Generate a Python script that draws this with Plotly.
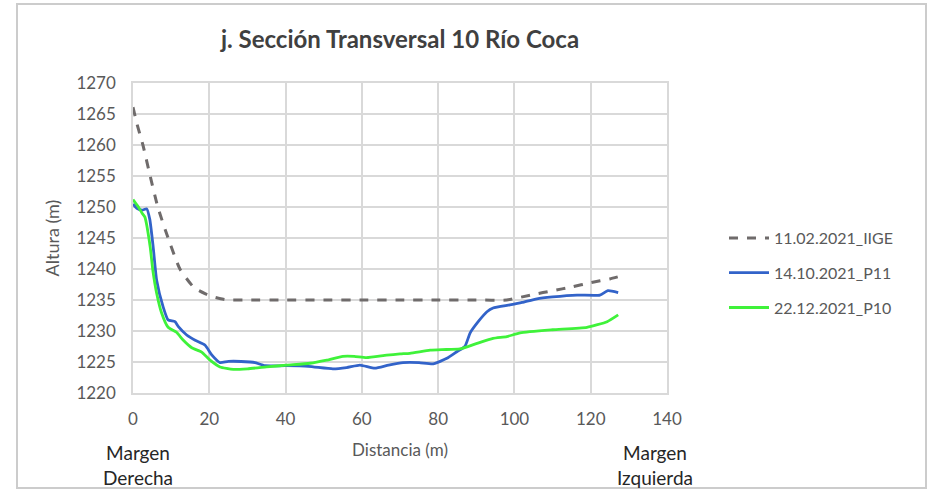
import plotly.graph_objects as go

# ---- data ----
iige_x = [0, 1, 2.6, 4.5, 6.5, 9.2, 12.3, 16, 19, 21, 23, 25, 30, 40, 50, 60, 70, 80, 90, 98, 105, 110, 115, 120, 125, 127.5]
iige_y = [1266.1, 1263.5, 1260, 1255, 1250, 1245, 1240, 1237, 1236, 1235.5, 1235.2, 1235.0, 1235, 1235, 1235, 1235, 1235, 1235, 1235, 1235.0,
          1235.9, 1236.5, 1237.1, 1237.8, 1238.4, 1238.8]

p11_x = [0, 1, 2.4, 3.6, 4.4, 5.3, 6.2, 7.9, 9.2, 11, 11.9, 14, 16.3, 18.9, 20.7, 22.8, 25, 30.7, 32, 34.6, 40, 46, 52.4, 56, 59.5,
         63.4, 67, 70.8, 75, 78.7, 82.3, 85, 87, 88.4, 90.5, 92.8, 94.4, 98.8, 102, 105.9, 110, 116.4, 122.4, 124.5, 127.2]
p11_y = [1250.5, 1249.8, 1249.5, 1249.7, 1248.0, 1243.5, 1238.2, 1233.9, 1231.8, 1231.5, 1230.7, 1229.4, 1228.5, 1227.7, 1226.1,
         1224.9, 1225.1, 1225.0, 1224.9, 1224.4, 1224.4, 1224.3, 1223.9, 1224.1, 1224.5, 1224.0, 1224.5, 1224.9, 1224.9, 1224.7,
         1225.6, 1226.7, 1227.5, 1229.7, 1231.5, 1233.1, 1233.7, 1234.2, 1234.6, 1235.2, 1235.5, 1235.8, 1235.8, 1236.5, 1236.2]

p10_x = [0, 1.2, 2.4, 3.1, 4.5, 5.2, 6.2, 7.5, 9.2, 11.4, 13.2, 15.4, 18, 20.2, 22.8, 26.3, 30, 35, 40.3, 46.4, 50.8, 55, 58,
         61.2, 66.5, 70, 72.6, 77.9, 81, 85.7, 90.2, 94.4, 98, 101.5, 110, 119, 124.3, 127.2]
p10_y = [1251.2, 1250.2, 1249.0, 1248.4, 1243.6, 1239.8, 1236.1, 1232.9, 1230.6, 1229.8, 1228.5, 1227.3, 1226.6, 1225.3, 1224.2,
         1223.8, 1223.9, 1224.2, 1224.5, 1224.8, 1225.3, 1225.9, 1225.9, 1225.7, 1226.1, 1226.3, 1226.4, 1226.9, 1227.0, 1227.1,
         1228.0, 1228.8, 1229.1, 1229.7, 1230.2, 1230.6, 1231.5, 1232.6]

x_ticks = [0, 20, 40, 60, 80, 100, 120, 140]
y_ticks = [1220, 1225, 1230, 1235, 1240, 1245, 1250, 1255, 1260, 1265, 1270]

title_text = "j. Sección Transversal 10 Río Coca"
names = ["11.02.2021_IIGE", "14.10.2021_P11", "22.12.2021_P10"]

FONT = "Lato"
GRAY = "#595959"
GRID = "#d9d9d9"

fig = go.Figure()
fig.add_trace(go.Scatter(x=iige_x, y=iige_y, mode="lines", name=names[0], legendgroup="a",
                         line=dict(color="#6f6b6b", width=3, dash="dash", shape="spline", smoothing=0.5)))
fig.add_trace(go.Scatter(x=p11_x, y=p11_y, mode="lines", name=names[1], legendgroup="b",
                         line=dict(color="#3263c9", width=2.8, shape="spline", smoothing=0.5)))
fig.add_trace(go.Scatter(x=p10_x, y=p10_y, mode="lines", name=names[2], legendgroup="c",
                         line=dict(color="#3ff23a", width=2.8, shape="spline", smoothing=0.5)))

W, H = 928, 489
L, R, T, B = 133, 667, 83, 393


def px(xp):
    return (xp - L) / (R - L)


def py(yp):
    return (B - yp) / (B - T)


fig.update_layout(
    width=W, height=H,
    margin=dict(l=L, r=W - R, t=T, b=H - B, autoexpand=False),
    paper_bgcolor="white", plot_bgcolor="white",
    font=dict(family=FONT, color=GRAY, size=17),
    title=dict(text="<b>" + title_text + "</b>", x=0.5, xanchor="center", xref="paper",
               y=1 - 40 / H, yanchor="middle",
               font=dict(family=FONT, size=24, color="#404040")),
    showlegend=True,
    legend=dict(x=px(724), y=py(221), xanchor="left", yanchor="top",
                font=dict(family=FONT, size=16, color=GRAY),
                tracegroupgap=11, bgcolor="rgba(0,0,0,0)", itemwidth=40),
    xaxis=dict(range=[0, 140], tickvals=x_ticks, showgrid=True, gridcolor=GRID, gridwidth=1.5,
               showline=True, linecolor=GRID, linewidth=1.5, mirror=True, zeroline=False,
               ticks="", ticklabelstandoff=10,
               title=dict(text="Distancia (m)", standoff=16, font=dict(size=17, color=GRAY))),
    yaxis=dict(range=[1220, 1270], tickvals=y_ticks, showgrid=True, gridcolor=GRID, gridwidth=1.5,
               showline=True, linecolor=GRID, linewidth=1.5, mirror=True, zeroline=False,
               ticks="", ticklabelstandoff=12,
               title=dict(text="Altura (m)", standoff=12, font=dict(size=18, color=GRAY))),
    shapes=[dict(type="rect", xref="paper", yref="paper",
                 x0=px(17), x1=px(926), y0=py(488), y1=py(4),
                 line=dict(color="#cccccc", width=2), fillcolor="rgba(0,0,0,0)", layer="below")],
    annotations=[
        dict(text="Margen<br>Derecha", xref="paper", yref="paper", x=px(138), y=py(465),
             xanchor="center", yanchor="middle", showarrow=False, align="center",
             font=dict(family=FONT, size=19, color="#262626")),
        dict(text="Margen<br>Izquierda", xref="paper", yref="paper", x=px(655), y=py(465),
             xanchor="center", yanchor="middle", showarrow=False, align="center",
             font=dict(family=FONT, size=19, color="#262626")),
    ],
)

fig.write_html("out.html", config={"displayModeBar": False},
               post_script="document.body.style.margin='0';document.body.style.padding='0';")
